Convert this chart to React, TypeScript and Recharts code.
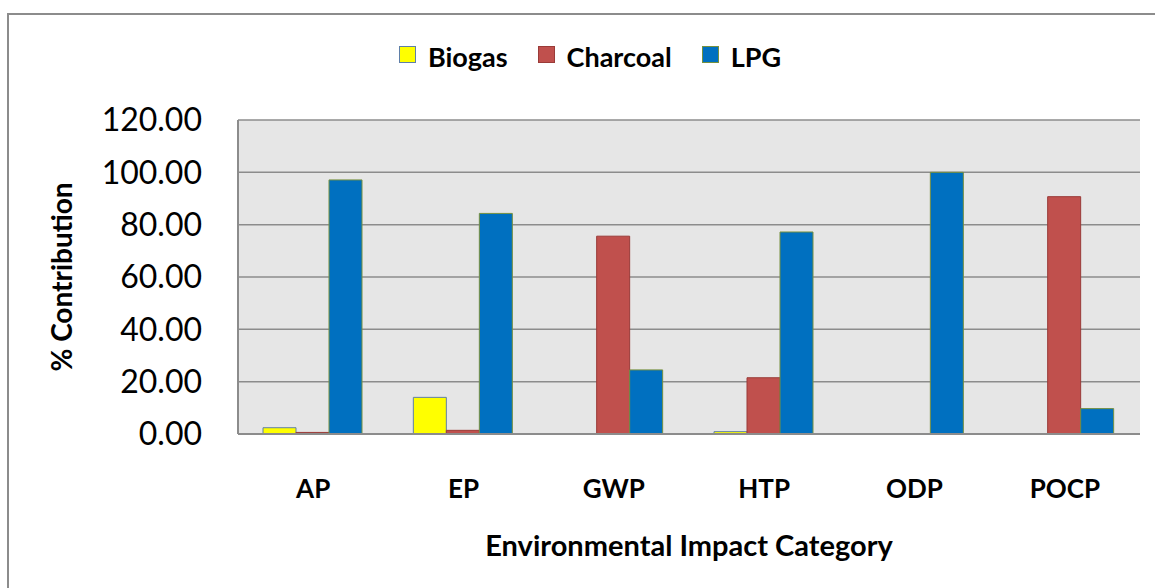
import { BarChart, Bar, XAxis, YAxis, CartesianGrid, Legend, Label } from 'recharts';

const categories = ['AP', 'EP', 'GWP', 'HTP', 'ODP', 'POCP'];
const biogas = [2.4, 14.0, 0, 0.9, 0, 0];
const charcoal = [0.6, 1.4, 75.6, 21.5, 0, 90.7];
const lpg = [97.1, 84.3, 24.5, 77.2, 100.0, 9.7];
const yTicks = [0, 20, 40, 60, 80, 100, 120];

const series = [
  { key: 'Biogas', values: biogas, fill: '#FFFF00', stroke: '#5f7fa8' },
  { key: 'Charcoal', values: charcoal, fill: '#C0504D', stroke: '#9a3b38' },
  { key: 'LPG', values: lpg, fill: '#0070C0', stroke: '#76903f' },
];

const data = categories.map((cat, i) => ({
  cat,
  Biogas: biogas[i],
  Charcoal: charcoal[i],
  LPG: lpg[i],
}));

const font = 'Lato, "Open Sans", sans-serif';

function LegendBox() {
  return (
    <div style={{ display: 'flex', justifyContent: 'center', alignItems: 'center', height: 40, fontFamily: font, fontWeight: 700, fontSize: 27, color: '#000', paddingLeft: 70 }}>
      {series.map((s) => (
        <div key={s.key} style={{ display: 'flex', alignItems: 'center', marginRight: 30 }}>
          <span style={{ display: 'inline-block', width: 15, height: 15, background: s.fill, border: `1px solid ${s.stroke}`, marginRight: 12, marginTop: -3 }} />
          <span>{s.key}</span>
        </div>
      ))}
    </div>
  );
}

export default function App() {
  return (
    <div style={{ position: 'relative', width: 1155, height: 588, background: '#fff', overflow: 'hidden' }}>
      <style>{'body{margin:0;overflow:hidden}'}</style>
      <div style={{ position: 'absolute', left: 7, top: 13, width: 1160, height: 600, borderLeft: '2px solid #8c8c8c', borderTop: '2px solid #8c8c8c' }} />
      <div style={{ position: 'absolute', left: 0, top: 0 }}>
        <BarChart
          width={1155}
          height={588}
          data={data}
          margin={{ top: 80, right: 15, left: 0, bottom: 0 }}
          barCategoryGap={25}
          barGap={0}
        >
          <CartesianGrid horizontal vertical={false} fill="#e6e6e6" stroke="#8c8c8c" strokeWidth={1.5} />
          <XAxis
            dataKey="cat"
            height={154}
            axisLine={{ stroke: '#8c8c8c', strokeWidth: 2 }}
            tickLine={false}
            tickSize={0}
            tickMargin={46}
            tick={{ fill: '#000', fontFamily: font, fontWeight: 700, fontSize: 26 }}
          >
            <Label
              content={({ viewBox }: any) => (
                <text x={viewBox.x + viewBox.width / 2} y={viewBox.y + 122} textAnchor="middle" fontFamily={font} fontWeight={700} fontSize={29} fill="#000">
                  Environmental Impact Category
                </text>
              )}
            />
          </XAxis>
          <YAxis
            width={238}
            domain={[0, 120]}
            ticks={yTicks}
            interval={0}
            tickFormatter={(v: number) => v.toFixed(2)}
            axisLine={{ stroke: '#8c8c8c', strokeWidth: 2 }}
            tickLine={false}
            tickSize={0}
            tickMargin={36}
            tick={{ fill: '#000', fontFamily: font, fontSize: 32 }}
          >
            <Label
              content={({ viewBox }: any) => {
                const cx = viewBox.x + 72;
                const cy = viewBox.y + viewBox.height / 2;
                return (
                  <text x={cx} y={cy} textAnchor="middle" transform={`rotate(-90, ${cx}, ${cy})`} fontFamily={font} fontWeight={700} fontSize={28} fill="#000">
                    % Contribution
                  </text>
                );
              }}
            />
          </YAxis>
          <Legend verticalAlign="top" align="center" wrapperStyle={{ top: 36 }} content={() => <LegendBox />} />
          {series.map((s) => (
            <Bar key={s.key} dataKey={s.key} fill={s.fill} stroke={s.stroke} strokeWidth={1} isAnimationActive={false} />
          ))}
        </BarChart>
      </div>
    </div>
  );
}
